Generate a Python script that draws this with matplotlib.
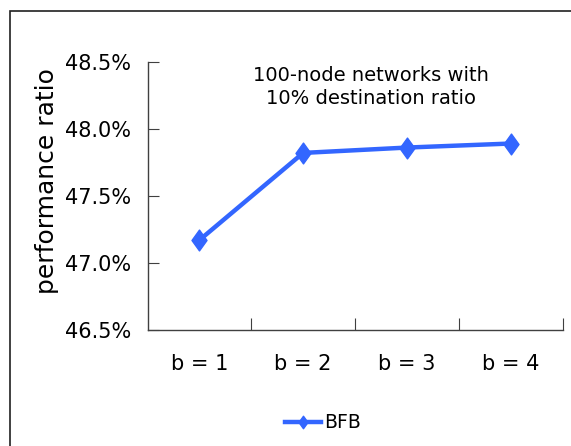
import matplotlib
matplotlib.use("Agg")
import matplotlib.pyplot as plt
from matplotlib.path import Path
from matplotlib.patches import Rectangle
from matplotlib.ticker import FuncFormatter, FixedLocator

categories = ["b = 1", "b = 2", "b = 3", "b = 4"]
bfb_values = [47.17, 47.82, 47.86, 47.89]
y_ticks = [46.5, 47.0, 47.5, 48.0, 48.5]
series_name = "BFB"
note = "100-node networks with\n10% destination ratio"

W, H, DPI = 571, 446, 100
fig = plt.figure(figsize=(W / DPI, H / DPI), dpi=DPI)
fig.patch.set_facecolor("white")

FAMILY = "DejaVu Sans"
blue = "#3366FF"
axis_col = "#404040"

# tall diamond marker
diamond = Path([(0, 1), (0.72, 0), (0, -1), (-0.72, 0), (0, 1)],
               [Path.MOVETO, Path.LINETO, Path.LINETO, Path.LINETO, Path.CLOSEPOLY])

ax = fig.add_axes([147.5 / W, 1 - 330 / H, (562.6 - 147.5) / W, (330 - 61.7) / H])
x = list(range(len(categories)))
line, = ax.plot(x, bfb_values, color=blue, lw=3.2, marker=diamond, markersize=15,
                markeredgecolor=blue, markeredgewidth=1, label=series_name,
                solid_joinstyle="round")

ax.set_xlim(-0.5, len(categories) - 0.5)
ax.set_ylim(y_ticks[0], y_ticks[-1])
ax.set_yticks(y_ticks)
ax.yaxis.set_major_formatter(FuncFormatter(lambda v, p: f"{v:.1f}%"))
# category boundaries carry the tick marks, category centres carry the labels
ax.xaxis.set_major_locator(FixedLocator([i + 0.5 for i in range(len(categories))]))
ax.xaxis.set_minor_locator(FixedLocator(x))
ax.xaxis.set_major_formatter(FuncFormatter(lambda v, p: ""))
ax.set_xticklabels(categories, minor=True)

for s in ("top", "right"):
    ax.spines[s].set_visible(False)
for s in ("left", "bottom"):
    ax.spines[s].set_color(axis_col)
    ax.spines[s].set_linewidth(1.0)

ax.tick_params(axis="y", direction="in", length=8, color=axis_col, pad=12)
ax.tick_params(axis="x", which="major", direction="in", length=9, color=axis_col)
ax.tick_params(axis="x", which="minor", length=0, pad=17)
for lab in ax.get_yticklabels() + ax.get_xticklabels(minor=True):
    lab.set_fontsize(15)
    lab.set_fontfamily(FAMILY)

ax.set_ylabel("performance ratio", fontsize=18, family=FAMILY, va="center")
ax.yaxis.set_label_coords(-(147.5 - 47) / (562.6 - 147.5), (330 - 181.5) / (330 - 61.7))

ax.text(371 / W, 1 - 87 / H, note, transform=fig.transFigure, ha="center",
        va="center", fontsize=14, linespacing=1.3, family=FAMILY)

leg = fig.legend(handles=[line], loc="center", bbox_to_anchor=(323 / W, 1 - 423 / H),
                 frameon=False, handlelength=1.9, handletextpad=0.15, markerscale=0.6,
                 prop=dict(size=13.5, family=FAMILY))

fig.add_artist(Rectangle((10 / W, -0.1), 1.2, 1.1 - 10.7 / H, transform=fig.transFigure,
                         fill=False, edgecolor="#202020", lw=1.2, clip_on=False))

fig.savefig("out.png", dpi=DPI)
